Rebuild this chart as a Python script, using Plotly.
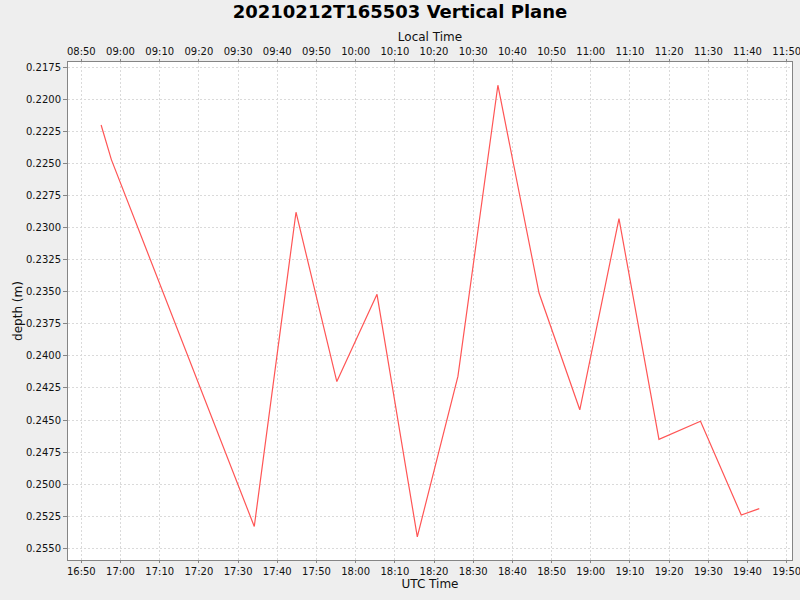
import plotly.graph_objects as go
import pandas as pd

# UTC sample times and measured depth
utc_times = ['16:55:03', '16:57:40', '17:34:08', '17:44:47', '17:55:12', '18:05:27',
             '18:15:44', '18:26:06', '18:36:18', '18:46:48', '18:57:12', '19:07:12',
             '19:17:24', '19:28:00', '19:38:24', '19:43:00']
depth = [0.2220, 0.2247, 0.2533, 0.2288, 0.2420, 0.2352, 0.2541, 0.2416,
         0.2189, 0.2351, 0.2442, 0.2293, 0.2465, 0.2451, 0.2524, 0.2519]

utc = pd.to_datetime(['2021-02-12 ' + t for t in utc_times])
local = utc - pd.Timedelta(hours=8)

x_range = [pd.Timestamp('2021-02-12 16:46:36'), pd.Timestamp('2021-02-12 19:51:21')]
x2_range = [t - pd.Timedelta(hours=8) for t in x_range]

font_name = 'DejaVu Sans'
grid_col = '#dadada'
axis_col = '#858585'

fig = go.Figure()
fig.add_scatter(x=utc, y=depth, mode='lines', line=dict(color='#ff5555', width=1.2),
                showlegend=False)
fig.add_scatter(x=local, y=depth, mode='lines', line=dict(color='rgba(0,0,0,0)'),
                xaxis='x2', showlegend=False, hoverinfo='skip')

fig.update_layout(
    width=800, height=600,
    paper_bgcolor='#eeeeee', plot_bgcolor='white',
    margin=dict(l=68, r=8, t=62, b=40),
    font=dict(family=font_name, size=10, color='#111111'),
    title=dict(text='<b>20210212T165503 Vertical Plane</b>', x=0.5, xanchor='center',
               y=1 - 12 / 600, yanchor='middle', yref='container',
               font=dict(size=18, color='black')),
    xaxis=dict(type='date', range=x_range, tick0='2021-02-12 16:50', dtick=600000,
               tickformat='%H:%M', showgrid=True, gridcolor=grid_col, griddash='2px,2px',
               showline=True, linecolor=axis_col, mirror=True, ticks='outside',
               ticklen=2, tickcolor=axis_col, zeroline=False, automargin=False,
               ticklabeloverflow='allow',
               title=dict(text='UTC Time', font=dict(size=12), standoff=3)),
    xaxis2=dict(type='date', range=x2_range, overlaying='x', side='top',
                tick0='2021-02-12 08:50', dtick=600000, tickformat='%H:%M',
                showgrid=False, showline=True, linecolor=axis_col, ticks='outside',
                ticklen=2, tickcolor=axis_col, zeroline=False, automargin=False,
                ticklabeloverflow='allow',
                title=dict(text='Local Time', font=dict(size=12), standoff=1)),
    yaxis=dict(range=[0.25591, 0.21709], tick0=0.2175, dtick=0.0025, tickformat='.4f',
               showgrid=True, gridcolor=grid_col, griddash='2px,2px', showline=True,
               linecolor=axis_col, mirror=True, ticks='outside', ticklen=4,
               tickcolor=axis_col, zeroline=False, automargin=False,
               title=dict(text='depth (m)', font=dict(size=12), standoff=0)),
)

# drop the page's default body margin so the figure fills the window
fig.write_html('out.html', config={'displayModeBar': False},
               post_script="document.body.style.margin='0';")
